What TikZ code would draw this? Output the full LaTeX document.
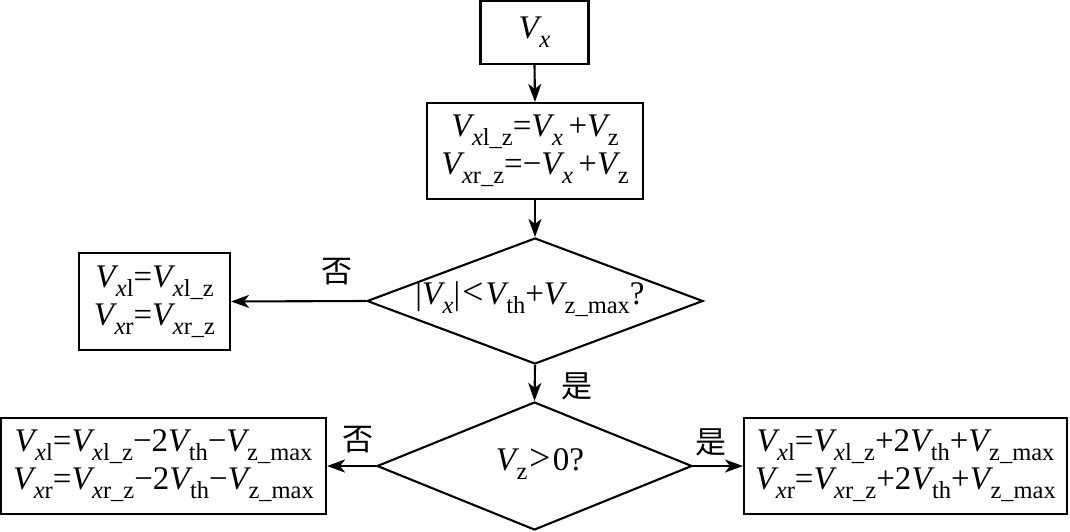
\documentclass[tikz,border=0pt]{standalone}
\usepackage{fontspec}
\setmainfont{Liberation Serif}
\newfontfamily\cjk{Noto Sans CJK SC}
\usetikzlibrary{shapes.geometric,arrows.meta}
\newcommand{\Vv}{\textit{V}}
\newcommand{\sbx}[1]{\kern-0.08em\raisebox{-0.27em}{\fontsize{24.5}{24.5}\selectfont #1}}
\newcommand{\xit}{\textit{x}}
\newcommand{\rel}[1]{\kern0.06em\scalebox{1.15}{#1}\kern0.06em}
\tikzset{
  box/.style={draw, line width=2.1pt, rectangle, inner sep=0pt, align=center,
    font=\fontsize{33}{38}\selectfont},
  dia/.style={draw, line width=2.1pt, diamond, inner sep=0pt},
  dtext/.style={font=\fontsize{33}{38}\selectfont, inner sep=0pt},
  arr/.style={line width=2.1pt, -{Stealth[length=18pt,width=13pt,inset=5pt]}},
  lab/.style={font=\cjk\fontsize{31}{31}\selectfont, inner sep=0pt}
}
\begin{document}
\begin{tikzpicture}[x=1pt,y=-1pt]
\useasboundingbox (0,0) rectangle (1070,532);
\node[box, minimum width=108pt, minimum height=63pt] (vx) at (534.5,32.5) {\Vv\sbx{\xit}};
\node[box, minimum width=216pt, minimum height=96pt] (b2) at (535,151)
  {\Vv\sbx{\xit l\_z}=\Vv\sbx{\xit}\,+\Vv\sbx{z}\\
   \Vv\sbx{\xit r\_z}=−\Vv\sbx{\xit}\,+\Vv\sbx{z}};
\node[dia, minimum width=336pt, minimum height=126pt] (d1) at (535,301) {};
\node[dtext] (d1t) at (530,299) {|\Vv\sbx{\xit}|\rel{<}\Vv\sbx{th}+\Vv\sbx{z\_max}?};
\node[box, minimum width=151pt, minimum height=97pt] (lb) at (154.5,301.5)
  {\Vv\sbx{\xit l}=\Vv\sbx{\xit l\_z}\\ \Vv\sbx{\xit r}=\Vv\sbx{\xit r\_z}};
\node[dia, minimum width=315pt, minimum height=128pt] (d2) at (534.5,466) {};
\node[dtext] (d2t) at (540,464) {\Vv\sbx{z}\rel{>}0?};
\node[box, minimum width=325pt, minimum height=96pt] (bl) at (163.5,466)
  {\Vv\sbx{\xit l}=\Vv\sbx{\xit l\_z}−2\Vv\sbx{th}−\Vv\sbx{z\_max}\\
   \Vv\sbx{\xit r}=\Vv\sbx{\xit r\_z}−2\Vv\sbx{th}−\Vv\sbx{z\_max}};
\node[box, minimum width=323pt, minimum height=96pt] (br) at (905.5,466)
  {\Vv\sbx{\xit l}=\Vv\sbx{\xit l\_z}+2\Vv\sbx{th}+\Vv\sbx{z\_max}\\
   \Vv\sbx{\xit r}=\Vv\sbx{\xit r\_z}+2\Vv\sbx{th}+\Vv\sbx{z\_max}};
\draw[arr] (vx.south) -- (b2.north);
\draw[arr] (b2.south) -- (d1.north);
\draw[arr] (d1.west) -- (lb.east);
\draw[arr] (d1.south) -- (d2.north);
\draw[arr] (d2.west) -- (bl.east);
\draw[arr] (d2.east) -- (br.west);
\node[lab] (n1) at (337,272) {否};
\node[lab] (y1) at (577,386) {是};
\node[lab] (n2) at (358,440) {否};
\node[lab] (y2) at (711,442) {是};
\end{tikzpicture}
\end{document}
